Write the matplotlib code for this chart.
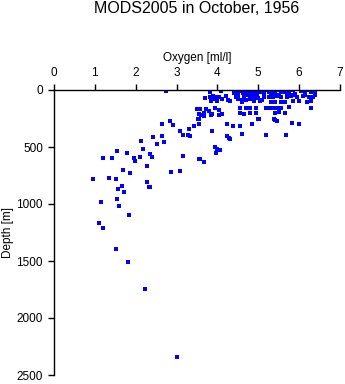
import matplotlib
matplotlib.use("Agg")
import matplotlib.pyplot as plt

# oxygen [ml/l] / depth [m] pairs
oxygen = [
    # deep, scattered
    0.96, 1.10, 1.21, 1.16, 1.21, 1.43, 1.35, 1.52, 1.55, 1.57, 1.67, 1.72,
    1.70, 1.55, 1.60, 1.52, 1.83, 1.82, 2.23, 1.79, 1.85, 1.96, 1.99, 2.11,
    2.14, 2.18, 2.28, 2.28, 2.33, 2.35, 2.40, 2.43, 2.53, 2.65, 2.65, 2.69,
    2.84, 2.92, 3.09, 3.09, 2.87, 3.16, 3.16, 3.28, 3.33, 3.31, 3.42, 3.55,
    3.55, 3.55, 3.55, 3.02, 2.73, 3.57, 2.35,
    # mid depths
    3.58, 3.66, 3.95, 4.00, 4.06, 3.97, 3.86, 4.23, 4.28, 4.31, 4.59, 5.18,
    5.68, 4.23, 4.39, 4.56, 4.85, 5.01, 5.39, 5.47, 5.83, 5.99, 3.52, 4.99,
    3.68, 3.68, 3.86, 4.05, 5.40,
    # 150-230 m
    3.50, 3.60, 3.72, 3.80, 3.85, 3.95, 4.05, 4.10, 4.55, 4.70, 4.80, 4.95,
    5.20, 5.25, 5.35, 5.45, 5.55, 5.75, 6.30, 4.55, 4.65, 4.80, 4.95, 5.40,
    5.50, 5.65,
    # 50-110 m
    3.69, 3.82, 3.90, 3.95, 4.05, 4.10, 4.20, 4.25, 4.00, 3.85, 3.88, 4.45,
    4.50, 4.60, 4.70, 4.80, 4.90, 5.00, 5.10, 5.15, 5.25, 5.35, 5.45, 5.55,
    5.70, 5.80, 5.95, 6.10, 6.25, 6.35, 5.30, 5.40, 5.55, 5.65, 5.85, 6.00,
    6.20, 6.30, 4.30, 4.90, 5.05, 4.60,
    # surface band
    3.81, 4.08, 4.45, 4.50, 4.55, 4.60, 4.62, 4.67, 4.70, 4.72, 4.75, 4.78,
    4.80, 4.82, 4.85, 4.88, 4.90, 4.93, 4.95, 4.98, 5.00, 5.05, 5.10, 5.15,
    5.20, 5.25, 5.35, 5.40, 5.45, 5.50, 5.55, 5.60, 5.65, 5.70, 5.75, 5.85,
    5.90, 6.05, 6.15, 6.20, 6.30, 6.38, 6.40, 4.40, 4.50, 4.65, 5.30, 5.85,
    6.15, 4.85, 4.95,
]
depth = [
    783, 1170, 1211, 980, 599, 599, 772, 781, 535, 868, 845, 895,
    705, 959, 1020, 1398, 1094, 1512, 1749, 556, 728, 599, 623, 591,
    444, 520, 664, 807, 851, 561, 585, 415, 476, 298, 401, 459,
    275, 304, 357, 711, 719, 398, 582, 398, 404, 345, 319, 211,
    257, 301, 608, 2345, 11, 167, 848,
    605, 629, 500, 520, 530, 550, 357, 404, 420, 432, 389, 395,
    398, 300, 319, 313, 298, 257, 251, 275, 292, 301, 254, 254,
    205, 228, 210, 219, 260,
    165, 215, 170, 180, 215, 160, 175, 210, 160, 158, 160, 162,
    160, 155, 157, 160, 155, 150, 155, 200, 210, 205, 205, 200,
    195, 200,
    73, 60, 80, 65, 60, 75, 55, 90, 100, 100, 56, 60,
    80, 85, 90, 80, 75, 70, 85, 65, 60, 62, 55, 60,
    58, 55, 58, 55, 60, 65, 105, 105, 108, 105, 100, 100,
    105, 95, 100, 100, 100, 105,
    15, 9, 5, 20, 10, 0, 30, 15, 5, 25, 40, 10,
    0, 20, 35, 5, 15, 25, 0, 40, 10, 20, 5, 30,
    0, 15, 10, 25, 0, 40, 10, 20, 5, 30, 15, 0,
    35, 10, 20, 0, 15, 5, 40, 25, 45, 50, 45, 45,
    45, 55, 50,
]

x_ticks = [0, 1, 2, 3, 4, 5, 6, 7]
y_ticks = [0, 500, 1000, 1500, 2000, 2500]

plt.rcParams['font.family'] = ['Liberation Sans', 'DejaVu Sans']

fig = plt.figure(figsize=(3.45, 3.84), dpi=100)
ax = fig.add_axes([54 / 345, 1 - 375 / 384, (340 - 54) / 345, (375 - 90) / 384])

ax.scatter(oxygen, depth, marker='s', s=6.5, color='#0000ff', linewidths=0)

ax.set_xlim(0, 7)
ax.set_ylim(2500, 0)
ax.set_xticks(x_ticks)
ax.set_yticks(y_ticks)

ax.xaxis.tick_top()
ax.xaxis.set_label_position('top')
ax.spines['right'].set_visible(False)
ax.spines['bottom'].set_visible(False)
for s in ('left', 'top'):
    ax.spines[s].set_linewidth(1.0)
ax.tick_params(axis='both', direction='out', length=4, width=1.0,
               labelsize=8.5, pad=4)

ax.set_xlabel('Oxygen [ml/l]', fontsize=8.5, labelpad=4)
ax.set_ylabel('Depth [m]', fontsize=8.5, labelpad=1.5)

fig.text(0.57, 1 - 13 / 384, 'MODS2005 in October, 1956', fontsize=11.5,
         ha='center', va='baseline')

fig.savefig('out.png', dpi=100)
